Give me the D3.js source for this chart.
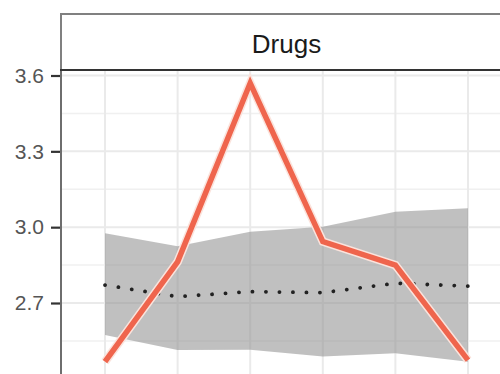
<!DOCTYPE html>
<html>
<head>
<meta charset="utf-8">
<script src="https://cdn.jsdelivr.net/npm/d3@7"></script>
<style>
  body { margin: 0; background: #fff; }
  svg { display: block; font-family: "Liberation Sans", Arial, sans-serif; }
</style>
</head>
<body>
<script>
// data
const periods = ["T1", "T2", "T3", "T4", "T5", "T6"];
const observed = [2.468, 2.863, 3.570, 2.943, 2.850, 2.474];
const bandUpper = [2.976, 2.925, 2.982, 3.002, 3.061, 3.075];
const bandLower = [2.573, 2.514, 2.515, 2.488, 2.501, 2.468];
const expected = [2.771, 2.725, 2.745, 2.741, 2.778, 2.767];
const majorTicks = [2.4, 2.7, 3.0, 3.3, 3.6];
const minorTicks = [2.55, 2.85, 3.15, 3.45];
const facetLabel = "Drugs";

const width = 500, height = 374;
const panel = {left: 61, top: 70, right: 512, bottom: 420};

const svg = d3.select("body").append("svg")
  .attr("width", width)
  .attr("height", height);

const x = d3.scalePoint().domain(periods).range([105, 468]);
const y = d3.scaleLinear().domain([2.7, 3.6]).range([303, 75.5]);

const rows = periods.map((p, i) => ({
  p: p, obs: observed[i], hi: bandUpper[i], lo: bandLower[i], exp: expected[i]
}));

// panel background
svg.append("rect")
  .attr("x", panel.left).attr("y", panel.top)
  .attr("width", panel.right - panel.left).attr("height", panel.bottom - panel.top)
  .attr("fill", "#fff");

// grid
const grid = svg.append("g");
grid.selectAll(".minor").data(minorTicks).join("line")
  .attr("x1", panel.left).attr("x2", panel.right)
  .attr("y1", d => y(d)).attr("y2", d => y(d))
  .attr("stroke", "#f0f0f0").attr("stroke-width", 1.5);
grid.selectAll(".major").data(majorTicks).join("line")
  .attr("x1", panel.left).attr("x2", panel.right)
  .attr("y1", d => y(d)).attr("y2", d => y(d))
  .attr("stroke", "#eaeaea").attr("stroke-width", 2);
grid.selectAll(".vert").data(periods).join("line")
  .attr("x1", d => x(d)).attr("x2", d => x(d))
  .attr("y1", panel.top).attr("y2", panel.bottom)
  .attr("stroke", "#eaeaea").attr("stroke-width", 2);

// ribbon
const area = d3.area()
  .x(d => x(d.p))
  .y0(d => y(d.lo))
  .y1(d => y(d.hi));
svg.append("path")
  .datum(rows)
  .attr("d", area)
  .attr("fill", "#8c8c8c")
  .attr("fill-opacity", 0.55);

// expected (dotted)
const lineExp = d3.line().x(d => x(d.p)).y(d => y(d.exp));
svg.append("path")
  .datum(rows)
  .attr("d", lineExp)
  .attr("fill", "none")
  .attr("stroke", "#222")
  .attr("stroke-width", 3.8)
  .attr("stroke-linecap", "round")
  .attr("stroke-dasharray", "0.1 13.4");

// observed (thick red with light halo)
const lineObs = d3.line().x(d => x(d.p)).y(d => y(d.obs));
svg.append("path")
  .datum(rows)
  .attr("d", lineObs)
  .attr("fill", "none")
  .attr("stroke", "#fbe3dc")
  .attr("stroke-width", 8.5);
svg.append("path")
  .datum(rows)
  .attr("d", lineObs)
  .attr("fill", "none")
  .attr("stroke", "#ef654d")
  .attr("stroke-width", 5.5);

// panel border (left side visible)
svg.append("line")
  .attr("x1", panel.left).attr("x2", panel.left)
  .attr("y1", panel.top).attr("y2", panel.bottom)
  .attr("stroke", "#6e6e6e").attr("stroke-width", 2);

// strip
svg.append("rect")
  .attr("x", panel.left).attr("y", 14)
  .attr("width", panel.right - panel.left).attr("height", panel.top - 14)
  .attr("fill", "#fff")
  .attr("stroke", "#808080").attr("stroke-width", 2);
svg.append("line")
  .attr("x1", panel.left - 1).attr("x2", panel.right)
  .attr("y1", panel.top).attr("y2", panel.top)
  .attr("stroke", "#333").attr("stroke-width", 2.2);
svg.append("text")
  .attr("x", (panel.left + panel.right) / 2)
  .attr("y", 53)
  .attr("text-anchor", "middle")
  .attr("font-size", 26)
  .attr("fill", "#1a1a1a")
  .text(facetLabel);

// y axis
const yAxis = svg.append("g")
  .attr("transform", `translate(${panel.left - 1},0)`)
  .call(d3.axisLeft(y).tickValues(majorTicks.filter(d => d >= 2.7))
    .tickFormat(d3.format(".1f")).tickSize(9).tickPadding(7));
yAxis.select(".domain").remove();
yAxis.selectAll(".tick line").attr("stroke", "#333").attr("stroke-width", 2.2);
yAxis.selectAll(".tick text")
  .attr("font-size", 21)
  .attr("fill", "#555")
  .attr("font-family", "Liberation Sans, Arial, sans-serif");
</script>
</body>
</html>
